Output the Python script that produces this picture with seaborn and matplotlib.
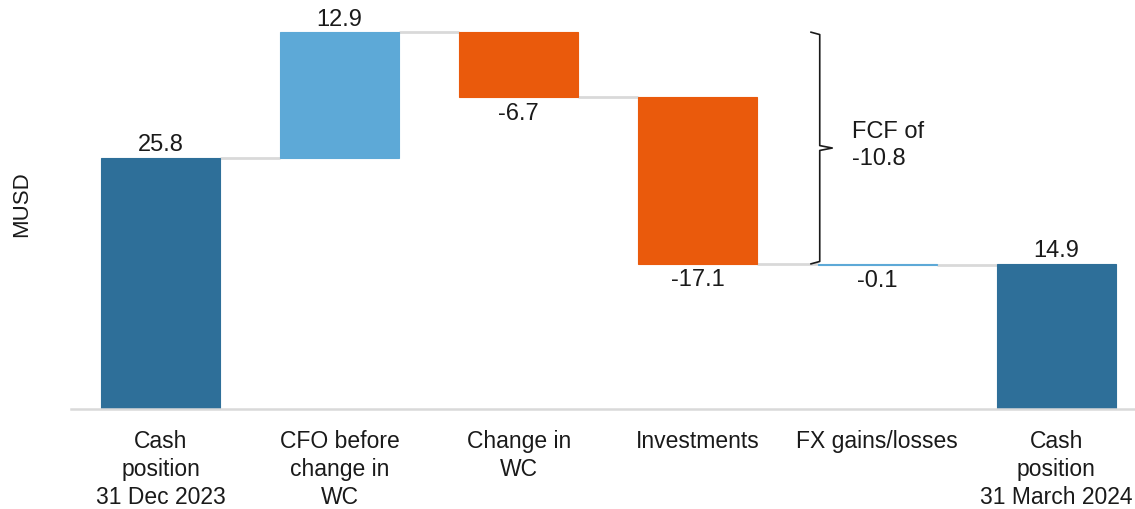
import numpy as np
import matplotlib
matplotlib.use("Agg")
import matplotlib.pyplot as plt
import seaborn as sns

# Waterfall data (MUSD)
categories = ["Cash\nposition\n31 Dec 2023", "CFO before\nchange in\nWC", "Change in\nWC",
              "Investments", "FX gains/losses", "Cash\nposition\n31 March 2024"]
changes = [25.8, 12.9, -6.7, -17.1, -0.1, 14.9]
is_total = [True, False, False, False, False, True]
value_labels = ["25.8", "12.9", "-6.7", "-17.1", "-0.1", "14.9"]
bar_colors = ["#2E6F99", "#5DA9D7", "#EA5A0C", "#EA5A0C", "#5DA9D7", "#2E6F99"]
fcf_label = "FCF of\n-10.8"

# running totals -> bottoms / tops of each bar
bottoms, tops, level = [], [], 0.0
for c, tot in zip(changes, is_total):
    if tot:
        bottoms.append(0.0)
        tops.append(c)
        level = c
    else:
        start = level
        level = level + c
        bottoms.append(min(start, level))
        tops.append(max(start, level))
heights = [t - b for t, b in zip(tops, bottoms)]

sns.set_theme(style="white")
plt.rcParams["font.family"] = ["Liberation Sans", "DejaVu Sans"]

fig = plt.figure(figsize=(11.35, 5.09), dpi=100)
ax = fig.add_axes([71 / 1135, 1 - 409 / 509, 1 - 71 / 1135, 409 / 509])

sns.barplot(x=categories, y=heights, hue=categories, palette=bar_colors,
            legend=False, width=0.665, saturation=1, ax=ax)
for patch, b, col in zip(ax.patches, bottoms, bar_colors):
    patch.set_y(b)
    patch.set_edgecolor(col)
    patch.set_linewidth(0.8)

ax.set_ylim(0, 42.0)
ax.set_xlim(-0.5, 5.44)

# connector lines
half = 0.665 / 2
levels = [tops[0], tops[1], bottoms[2], bottoms[3], bottoms[4]]
for i, lv in enumerate(levels):
    ax.hlines(lv, i + half, i + 1 - half, color="#D9D9D9", lw=2, zorder=0)

# value labels
for i, (c, lab) in enumerate(zip(changes, value_labels)):
    if c >= 0:
        ax.text(i, tops[i] + 0.15, lab, ha="center", va="bottom", fontsize=17, color="#1a1a1a")
    else:
        ax.text(i, bottoms[i] - 0.55, lab, ha="center", va="top", fontsize=17, color="#1a1a1a")

# FCF bracket
top_b, bot_b = tops[1], bottoms[3]
mid_b = (top_b + bot_b) / 2
xv, xa, xt = 3.68, 3.63, 3.75
ax.plot([xa, xv, xv, xt, xv, xv, xa],
        [top_b, top_b - 0.25, mid_b + 0.25, mid_b, mid_b - 0.25, bot_b + 0.25, bot_b],
        color="#1a1a1a", lw=1.2, solid_joinstyle="round")
ax.text(3.86, mid_b + 0.3, fcf_label, ha="left", va="center", fontsize=17,
        color="#1a1a1a", linespacing=1.3)

ax.set_ylabel("MUSD", fontsize=16, color="#1a1a1a", labelpad=28)
ax.set_yticks([])
for s in ["top", "right", "left"]:
    ax.spines[s].set_visible(False)
ax.spines["bottom"].set_color("#D9D9D9")
ax.spines["bottom"].set_linewidth(1.8)
ax.tick_params(axis="x", length=0, pad=15)
for t in ax.get_xticklabels():
    t.set_fontsize(16.5)
    t.set_linespacing(1.28)
    t.set_color("#1a1a1a")

fig.savefig("out.png", dpi=100)
